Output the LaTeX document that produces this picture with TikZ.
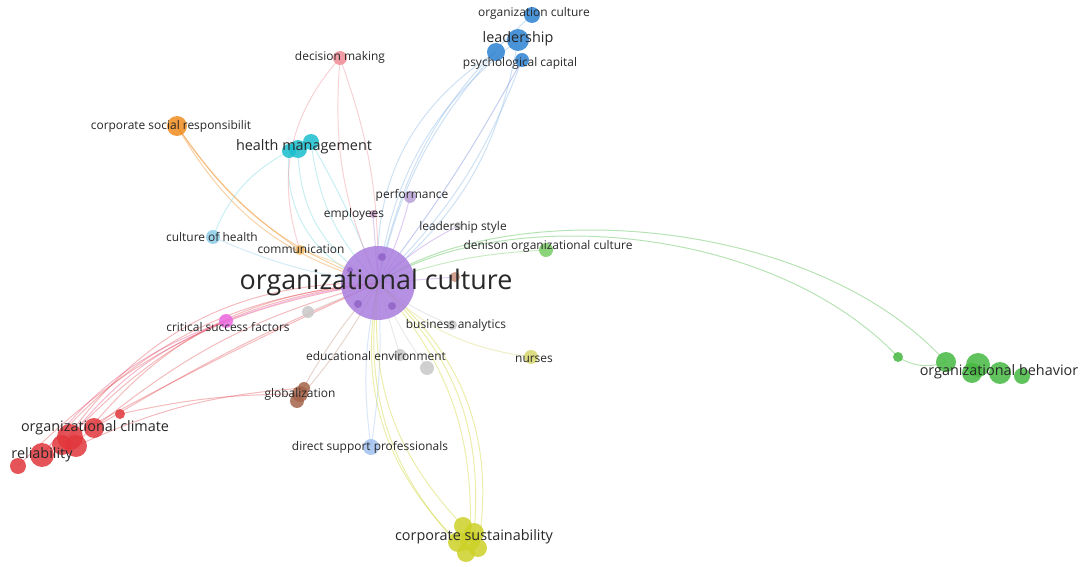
\documentclass[tikz,border=0pt]{standalone}
\usepackage{fontspec}
\setmainfont{Open Sans}
\definecolor{cpurple}{RGB}{170,125,222}
\definecolor{cpurpled}{RGB}{145,100,200}
\definecolor{cred}{RGB}{225,55,60}
\definecolor{cgreen}{RGB}{70,185,65}
\definecolor{cgreenl}{RGB}{120,205,100}
\definecolor{cblue}{RGB}{45,130,210}
\definecolor{cpink}{RGB}{240,140,150}
\definecolor{corange}{RGB}{240,140,30}
\definecolor{corangel}{RGB}{240,185,100}
\definecolor{ccyan}{RGB}{25,190,205}
\definecolor{clcyan}{RGB}{140,205,232}
\definecolor{cperf}{RGB}{185,160,215}
\definecolor{cemp}{RGB}{205,160,200}
\definecolor{cgrey}{RGB}{200,200,200}
\definecolor{cbrownl}{RGB}{205,145,125}
\definecolor{cmag}{RGB}{235,105,225}
\definecolor{cyell}{RGB}{205,210,40}
\definecolor{cyelll}{RGB}{215,215,110}
\definecolor{cbrown}{RGB}{165,100,75}
\definecolor{clblue}{RGB}{160,192,240}
\definecolor{ctext}{RGB}{40,40,40}
\tikzset{
  bub/.style={circle, inner sep=0pt, draw=none, fill opacity=0.85, minimum size={#1*0.04cm}},
  edge/.style={line width=0.55pt, draw opacity=0.4},
  lsmall/.style={text=ctext, inner sep=0pt, font=\fontsize{6.8}{8}\selectfont},
  lmid/.style={text=ctext, inner sep=0pt, font=\fontsize{8.2}{10}\selectfont},
  lbig/.style={text=ctext, inner sep=0pt, font=\fontsize{15.3}{18}\selectfont},
}
\begin{document}
\begin{tikzpicture}[x=0.02cm, y=-0.02cm]
\useasboundingbox[fill=white] (0,0) rectangle (1088,567);
% ---------- coordinates ----------
\coordinate (C) at (378,283);
\coordinate (ra) at (120,414); \coordinate (rb) at (94,428); \coordinate (rc) at (70,437);
\coordinate (rd) at (76,446); \coordinate (re) at (42,455); \coordinate (rf) at (18,466); \coordinate (rg) at (62,445);
\coordinate (ga) at (898,357); \coordinate (gb) at (946,362); \coordinate (gc) at (978,365);
\coordinate (gd) at (972,373); \coordinate (ge) at (1000,373); \coordinate (gf) at (1022,376);
\coordinate (ba) at (532,15); \coordinate (bb) at (518,40); \coordinate (bc) at (496,52); \coordinate (bd) at (522,60);
\coordinate (dm) at (340,58);
\coordinate (csr) at (177,126);
\coordinate (hma) at (298,149); \coordinate (hmb) at (311,142); \coordinate (hmc) at (289,151);
\coordinate (perf) at (410,197);
\coordinate (emp) at (373,214);
\coordinate (ls) at (458,226);
\coordinate (den) at (546,250);
\coordinate (com) at (300,250);
\coordinate (coh) at (213,237);
\coordinate (brs) at (455,277);
\coordinate (csf) at (226,321);
\coordinate (gr1) at (308,312);
\coordinate (ban) at (452,325);
\coordinate (nur) at (531,357);
\coordinate (edu1) at (400,355); \coordinate (edu2) at (427,368);
\coordinate (gla) at (304,388); \coordinate (glb) at (300,394); \coordinate (glc) at (297,401);
\coordinate (dsp) at (371,447);
\coordinate (csa) at (463,526); \coordinate (csb) at (474,533); \coordinate (csc) at (458,542);
\coordinate (csd) at (478,548); \coordinate (cse) at (466,553); \coordinate (csf2) at (470,541);
% ---------- edges ----------
% red cluster
\draw[edge, cred!70!cpink] (rb) to[bend left=12] (C);
\draw[edge, cred!70!cpink] (rc) to[bend left=20] (C);
\draw[edge, cred!70!cpink] (rd) to[bend left=24] (C);
\draw[edge, cred!70!cpink] (re) to[bend left=22] (C);
\draw[edge, cred!70!cpink] (rg) to[bend left=28] (C);
\draw[edge, cred!70!cpink] (rf) to[bend left=18] (C);
\draw[edge, cred!70!cpink] (ra) to[bend left=6] (glb);
\draw[edge, cred!70!cpink] (rb) to[bend left=4] (C);
\draw[edge, cred!70!cpink] (rc) to[bend left=2] (C);
\draw[edge, cred!70!cpink] (rd) to[bend left=10] (gla);
\draw[edge, cred!60!cmag] (re) to[bend left=16] (csf);
\draw[edge, cred!60!cmag] (rc) to[bend left=14] (csf);
% orange
\draw[edge, corange] (csr) to[bend right=18] (C);
\draw[edge, corange] (csr) to[bend right=22] (C);
\draw[edge, corange] (csr) to[bend right=10] (com);
% cyan
\draw[edge, ccyan!60] (hma) to[bend right=30] (C);
\draw[edge, ccyan!60] (hmb) to[bend right=18] (C);
\draw[edge, ccyan!60] (hmc) to[bend right=40] (C);
\draw[edge, ccyan!60] (hmb) to[bend left=4] (C);
\draw[edge, ccyan!60] (hmc) to[bend right=20] (coh);
% pink
\draw[edge, cpink] (dm) to[bend right=14] (C);
\draw[edge, cpink] (dm) to[bend left=10] (C);
\draw[edge, cpink] (dm) to[bend right=30] (com);
% blue
\draw[edge, cblue!60] (bc) to[bend right=14] (C);
\draw[edge, cblue!60] (bb) to[bend right=22] (C);
\draw[edge, cblue!60] (ba) to[bend right=18] (C);
\draw[edge, cblue!60] (bd) to[bend left=12] (C);
\draw[edge, cblue!60] (bb) to[bend left=20] (C);
\draw[edge, cblue!60] (bc) to[bend right=30] (C);
\draw[edge, cblue!50!cpurple] (bd) to[bend left=4] (C);
% purple small
\draw[edge, cpurple] (perf) to[bend left=6] (C);
\draw[edge, cpurple] (emp) to (C);
\draw[edge, cpurple] (ls) to[bend right=8] (C);
\draw[edge, cpurple] (brs) to (C);
\draw[edge, clcyan] (coh) to[bend right=8] (C);
\draw[edge, corangel] (com) to[bend left=5] (C);
\draw[edge, cmag] (csf) to[bend left=6] (C);
\draw[edge, cgrey] (gr1) to (C);
\draw[edge, cgrey] (ban) to[bend left=8] (C);
\draw[edge, cgrey] (edu1) to (C);
\draw[edge, cgrey] (edu2) to[bend left=5] (C);
\draw[edge, cbrown!70] (glb) to[bend left=6] (C);
\draw[edge, cbrown!70] (glc) to[bend right=6] (C);
\draw[edge, clblue] (dsp) to[bend right=6] (C);
\draw[edge, clblue] (dsp) to[bend left=10] (C);
% green
\draw[edge, cgreen] (C) .. controls (500,196) and (810,212) .. (gb);
\draw[edge, cgreen] (C) .. controls (500,204) and (770,222) .. (ga);
\draw[edge, cgreen] (ga) to[bend right=25] (gb);
\draw[edge, cgreenl] (den) to[bend right=8] (C);
% yellow
\draw[edge, cyell] (csa) to[bend left=24] (C);
\draw[edge, cyell] (csc) to[bend left=28] (C);
\draw[edge, cyell] (cse) to[bend left=26] (C);
\draw[edge, cyell] (csb) to[bend right=26] (C);
\draw[edge, cyell] (csd) to[bend right=30] (C);
\draw[edge, cyell] (csf2) to[bend right=22] (C);
\draw[edge, cyelll] (nur) to[bend left=18] (C);
% ---------- bubbles ----------
\node[bub=37, fill=cpurple] (nC) at (C) {};
\node[bub=4, fill=cpurpled] (nCa) at (382,257) {};
\node[bub=4, fill=cpurpled] (nCb) at (358,304) {};
\node[bub=4, fill=cpurpled] (nCc) at (392,306) {};
\node[bub=3, fill=cpurpled] (nCd) at (350,270) {};
\node[bub=5, fill=cred] (nra) at (ra) {};
\node[bub=10, fill=cred] (nrb) at (rb) {};
\node[bub=13, fill=cred] (nrc) at (rc) {};
\node[bub=11, fill=cred] (nrd) at (rd) {};
\node[bub=10, fill=cred] (nrg) at (rg) {};
\node[bub=12, fill=cred] (nre) at (re) {};
\node[bub=8, fill=cred] (nrf) at (rf) {};
\node[bub=5, fill=cgreen] (nga) at (ga) {};
\node[bub=10, fill=cgreen] (ngb) at (gb) {};
\node[bub=12, fill=cgreen] (ngc) at (gc) {};
\node[bub=10, fill=cgreen] (ngd) at (gd) {};
\node[bub=11, fill=cgreen] (nge) at (ge) {};
\node[bub=8, fill=cgreen] (ngf) at (gf) {};
\node[bub=8, fill=cblue] (nba) at (ba) {};
\node[bub=11, fill=cblue] (nbb) at (bb) {};
\node[bub=9, fill=cblue] (nbc) at (bc) {};
\node[bub=7, fill=cblue] (nbd) at (bd) {};
\node[bub=7, fill=cpink] (ndm) at (dm) {};
\node[bub=10, fill=corange] (ncsr) at (csr) {};
\node[bub=8, fill=ccyan] (nhmb) at (hmb) {};
\node[bub=9, fill=ccyan] (nhma) at (hma) {};
\node[bub=7, fill=ccyan] (nhmc) at (hmc) {};
\node[bub=6, fill=cperf] (nperf) at (perf) {};
\node[bub=4, fill=cemp] (nemp) at (emp) {};
\node[bub=4, fill=cgrey] (nls) at (ls) {};
\node[bub=7, fill=cgreenl] (nden) at (den) {};
\node[bub=5, fill=corangel] (ncom) at (com) {};
\node[bub=7, fill=clcyan] (ncoh) at (coh) {};
\node[bub=5, fill=cbrownl] (nbrs) at (brs) {};
\node[bub=7, fill=cmag] (ncsf) at (csf) {};
\node[bub=6, fill=cgrey] (ngr1) at (gr1) {};
\node[bub=5, fill=cgrey] (nban) at (ban) {};
\node[bub=7, fill=cyelll] (nnur) at (nur) {};
\node[bub=6, fill=cgrey] (nedu1) at (edu1) {};
\node[bub=7, fill=cgrey] (nedu2) at (edu2) {};
\node[bub=6, fill=cbrown] (ngla) at (gla) {};
\node[bub=8, fill=cbrown] (nglb) at (glb) {};
\node[bub=7, fill=cbrown] (nglc) at (glc) {};
\node[bub=8, fill=clblue] (ndsp) at (dsp) {};
\node[bub=9, fill=cyell] (ncsa) at (csa) {};
\node[bub=10, fill=cyell] (ncsb) at (csb) {};
\node[bub=10, fill=cyell] (ncsc) at (csc) {};
\node[bub=10, fill=cyell] (ncsf2) at (csf2) {};
\node[bub=9, fill=cyell] (ncsd) at (csd) {};
\node[bub=9, fill=cyell] (ncse) at (cse) {};
% ---------- labels ----------
\node[lsmall] (l1) at (534,13) {organization culture};
\node[lmid] (l2) at (518,39) {leadership};
\node[lsmall] (l3) at (520,63) {psychological capital};
\node[lsmall] (l4) at (340,57) {decision making};
\node[lsmall] (l5) at (171,126) {corporate social responsibilit};
\node[lmid] (l6) at (304,147) {health management};
\node[lsmall] (l7) at (412,195) {performance};
\node[lsmall] (l8) at (354,214) {employees};
\node[lsmall] (l9) at (463,227) {leadership style};
\node[lsmall] (l10) at (212,237) {culture of health};
\node[lsmall] (l11) at (301,249) {communication};
\node[lsmall] (l12) at (548,246) {denison organizational culture};
\node[lbig] (l13) at (376,283) {organizational culture};
\node[lsmall] (l14) at (228,327) {critical success factors};
\node[lsmall] (l15) at (456,325) {business analytics};
\node[lsmall] (l16) at (376,356) {educational environment};
\node[lsmall] (l17) at (534,359) {nurses};
\node[lsmall] (l18) at (300,394) {globalization};
\node[lmid] (l19) at (95,428) {organizational climate};
\node[lmid] (l20) at (42,455) {reliability};
\node[lsmall] (l21) at (370,447) {direct support professionals};
\node[lmid] (l22) at (474,537) {corporate sustainability};
\node[lmid] (l23) at (999,372) {organizational behavior};
\end{tikzpicture}
\end{document}
